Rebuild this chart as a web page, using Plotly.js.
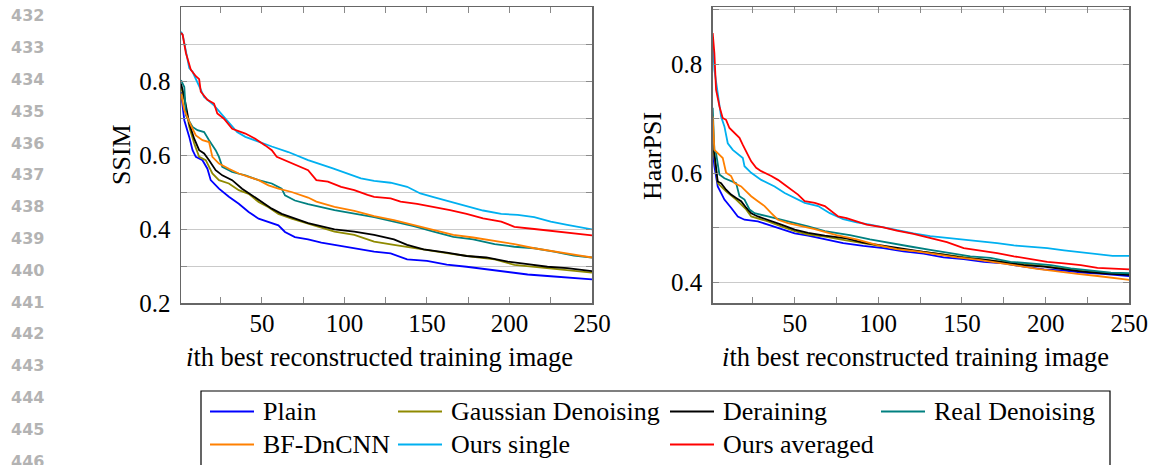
<!DOCTYPE html>
<html>
<head>
<meta charset="utf-8">
<script src="https://cdn.plot.ly/plotly-3.0.1.min.js"></script>
<style>html,body{margin:0;padding:0;background:#fff;}#chart{width:1152px;height:465px;}</style>
</head>
<body>
<div id="chart"></div>
<script>
// ---------- data ----------
const seriesNames = ["Plain", "Gaussian Denoising", "Deraining", "Real Denoising", "BF-DnCNN", "Ours single", "Ours averaged"];
const seriesColors = ["#0000ff", "#8f8a00", "#000000", "#008080", "#ff8000", "#00b0f0", "#ff0000"];

const xTickVals = [50, 100, 150, 200, 250];
const ssimTickVals = [0.2, 0.4, 0.6, 0.8];
const haarTickVals = [0.4, 0.6, 0.8];
const lineNumbers = ["432","433","434","435","436","437","438","439","440","441","442","443","444","445","446"];

// SSIM (left panel)
const ssimPlainX = [1, 2, 3, 6, 8, 10, 14, 17, 19, 24, 30, 36, 42, 48, 54, 60, 64, 70, 78, 86, 94, 106, 118, 128, 138, 150, 162, 174, 186, 199, 211, 223, 235, 250];
const ssimPlainY = [0.77, 0.73, 0.694, 0.649, 0.613, 0.595, 0.586, 0.563, 0.532, 0.509, 0.487, 0.468, 0.446, 0.428, 0.419, 0.410, 0.392, 0.378, 0.372, 0.363, 0.357, 0.348, 0.339, 0.334, 0.318, 0.314, 0.304, 0.298, 0.291, 0.285, 0.277, 0.273, 0.269, 0.264];
const ssimGaussX = [1, 3, 6, 9, 12, 16, 20, 24, 30, 36, 42, 48, 54, 60, 68, 78, 94, 106, 118, 130, 142, 154, 166, 178, 191, 203, 215, 227, 239, 250];
const ssimGaussY = [0.784, 0.750, 0.676, 0.631, 0.595, 0.586, 0.550, 0.532, 0.523, 0.505, 0.495, 0.473, 0.459, 0.441, 0.428, 0.414, 0.393, 0.384, 0.366, 0.357, 0.348, 0.339, 0.332, 0.325, 0.318, 0.303, 0.298, 0.291, 0.286, 0.282];
const ssimDerainX = [1, 3, 6, 9, 12, 15, 18, 22, 26, 32, 38, 44, 50, 56, 62, 68, 78, 94, 106, 118, 130, 138, 148, 162, 174, 186, 199, 211, 223, 235, 250];
const ssimDerainY = [0.793, 0.757, 0.685, 0.644, 0.613, 0.604, 0.586, 0.559, 0.545, 0.532, 0.509, 0.491, 0.473, 0.455, 0.441, 0.432, 0.416, 0.399, 0.393, 0.384, 0.372, 0.357, 0.345, 0.336, 0.327, 0.323, 0.312, 0.305, 0.298, 0.294, 0.286];
const ssimRealX = [1, 3, 4, 8, 11, 15, 18, 22, 24, 26, 32, 40, 48, 56, 62, 64, 70, 78, 94, 106, 118, 130, 142, 154, 166, 178, 191, 203, 215, 227, 239, 250];
const ssimRealY = [0.802, 0.784, 0.707, 0.676, 0.667, 0.662, 0.640, 0.613, 0.595, 0.568, 0.554, 0.545, 0.532, 0.523, 0.509, 0.491, 0.477, 0.467, 0.451, 0.442, 0.432, 0.420, 0.408, 0.393, 0.379, 0.372, 0.359, 0.352, 0.348, 0.339, 0.328, 0.323];
const ssimBfX = [1, 3, 7, 10, 14, 18, 20, 24, 30, 36, 42, 48, 54, 60, 68, 78, 83, 94, 106, 118, 130, 142, 154, 166, 178, 191, 203, 215, 227, 239, 250];
const ssimBfY = [0.766, 0.721, 0.680, 0.653, 0.640, 0.635, 0.595, 0.577, 0.563, 0.550, 0.541, 0.532, 0.518, 0.509, 0.500, 0.485, 0.474, 0.460, 0.449, 0.435, 0.424, 0.411, 0.397, 0.384, 0.377, 0.368, 0.359, 0.348, 0.339, 0.332, 0.323];
const ssimSingleX = [1, 2, 4, 6, 8, 15, 21, 28, 35, 40, 48, 56, 66, 78, 93, 102, 110, 118, 128, 138, 146, 154, 164, 174, 184, 195, 205, 215, 225, 235, 250];
const ssimSingleY = [0.933, 0.925, 0.880, 0.835, 0.825, 0.757, 0.734, 0.698, 0.662, 0.649, 0.635, 0.623, 0.608, 0.586, 0.564, 0.550, 0.537, 0.530, 0.525, 0.514, 0.496, 0.486, 0.474, 0.460, 0.450, 0.441, 0.438, 0.432, 0.420, 0.411, 0.399];
const ssimAvgX = [1, 2, 4, 7, 10, 12, 13, 17, 21, 23, 27, 32, 40, 46, 52, 56, 59, 64, 69, 78, 83, 90, 98, 106, 114, 118, 128, 134, 144, 154, 164, 174, 184, 195, 203, 215, 225, 235, 250];
const ssimAvgY = [0.930, 0.925, 0.875, 0.830, 0.813, 0.805, 0.771, 0.749, 0.739, 0.712, 0.698, 0.671, 0.658, 0.644, 0.626, 0.613, 0.595, 0.586, 0.577, 0.559, 0.532, 0.528, 0.514, 0.505, 0.492, 0.487, 0.483, 0.474, 0.468, 0.460, 0.451, 0.441, 0.429, 0.420, 0.406, 0.400, 0.395, 0.390, 0.383];

// HaarPSI (right panel)
const haarPlainX = [1, 2, 4, 6, 8, 12, 14, 16, 20, 28, 34, 42, 50, 58, 68, 79, 91, 103, 115, 127, 139, 151, 163, 175, 187, 199, 211, 222, 234, 250];
const haarPlainY = [0.643, 0.613, 0.576, 0.564, 0.552, 0.537, 0.530, 0.521, 0.515, 0.512, 0.506, 0.498, 0.490, 0.486, 0.480, 0.472, 0.467, 0.463, 0.457, 0.453, 0.446, 0.443, 0.438, 0.435, 0.429, 0.424, 0.422, 0.418, 0.416, 0.412];
const haarGaussX = [1, 2, 4, 9, 15, 21, 24, 34, 42, 50, 58, 68, 79, 91, 103, 115, 127, 139, 151, 163, 175, 187, 199, 211, 222, 234, 250];
const haarGaussY = [0.649, 0.630, 0.582, 0.567, 0.552, 0.534, 0.521, 0.512, 0.503, 0.494, 0.488, 0.484, 0.478, 0.472, 0.465, 0.460, 0.456, 0.451, 0.446, 0.442, 0.438, 0.434, 0.430, 0.426, 0.422, 0.418, 0.415];
const haarDerainX = [1, 2, 4, 6, 9, 12, 15, 18, 21, 24, 28, 34, 42, 50, 58, 68, 81, 91, 103, 115, 127, 139, 151, 163, 175, 187, 199, 211, 222, 234, 250];
const haarDerainY = [0.655, 0.637, 0.585, 0.582, 0.570, 0.561, 0.555, 0.549, 0.537, 0.527, 0.521, 0.515, 0.506, 0.497, 0.491, 0.486, 0.481, 0.473, 0.467, 0.461, 0.456, 0.451, 0.445, 0.442, 0.437, 0.432, 0.429, 0.424, 0.420, 0.417, 0.414];
const haarRealX = [1, 2, 3, 5, 8, 12, 15, 17, 20, 23, 26, 34, 42, 50, 58, 68, 76, 83, 95, 107, 119, 131, 143, 155, 167, 179, 191, 203, 215, 227, 239, 250];
const haarRealY = [0.720, 0.643, 0.637, 0.598, 0.591, 0.585, 0.582, 0.558, 0.552, 0.534, 0.527, 0.521, 0.515, 0.509, 0.503, 0.494, 0.491, 0.487, 0.479, 0.472, 0.466, 0.460, 0.454, 0.448, 0.445, 0.438, 0.435, 0.432, 0.426, 0.422, 0.418, 0.417];
const haarBfX = [1, 2, 4, 7, 9, 12, 14, 18, 21, 24, 28, 32, 36, 40, 46, 54, 62, 75, 87, 99, 111, 123, 135, 147, 159, 171, 183, 195, 207, 219, 231, 243, 250];
const haarBfY = [0.704, 0.643, 0.637, 0.628, 0.601, 0.595, 0.582, 0.576, 0.567, 0.558, 0.549, 0.540, 0.527, 0.515, 0.509, 0.504, 0.498, 0.487, 0.479, 0.469, 0.461, 0.457, 0.451, 0.446, 0.442, 0.437, 0.431, 0.425, 0.420, 0.416, 0.412, 0.408, 0.405];
const haarSingleX = [1, 2, 4, 6, 8, 10, 13, 17, 19, 20, 24, 30, 38, 44, 50, 56, 64, 71, 79, 87, 95, 103, 111, 121, 131, 141, 151, 161, 171, 181, 191, 201, 211, 221, 231, 240, 250];
const haarSingleY = [0.845, 0.790, 0.747, 0.704, 0.686, 0.655, 0.643, 0.634, 0.628, 0.613, 0.601, 0.588, 0.576, 0.564, 0.555, 0.546, 0.540, 0.527, 0.516, 0.510, 0.506, 0.501, 0.496, 0.490, 0.485, 0.482, 0.478, 0.475, 0.472, 0.468, 0.466, 0.463, 0.459, 0.456, 0.453, 0.449, 0.449];
const haarAvgX = [1, 2, 3, 5, 7, 9, 11, 14, 17, 19, 21, 24, 27, 30, 36, 40, 44, 48, 52, 56, 62, 68, 72, 76, 81, 87, 93, 103, 111, 121, 131, 141, 151, 161, 171, 181, 191, 201, 211, 221, 231, 250];
const haarAvgY = [0.857, 0.820, 0.753, 0.723, 0.701, 0.698, 0.683, 0.674, 0.665, 0.652, 0.640, 0.622, 0.610, 0.604, 0.595, 0.588, 0.579, 0.570, 0.561, 0.549, 0.546, 0.540, 0.530, 0.521, 0.518, 0.512, 0.506, 0.501, 0.495, 0.489, 0.482, 0.474, 0.463, 0.459, 0.454, 0.448, 0.443, 0.438, 0.435, 0.432, 0.427, 0.424];

// ---------- build ----------
const W = 1152, H = 465;
const fx = p => p / W;
const fy = p => 1 - p / H;

const ssimSeries = [[ssimPlainX, ssimPlainY], [ssimGaussX, ssimGaussY], [ssimDerainX, ssimDerainY], [ssimRealX, ssimRealY], [ssimBfX, ssimBfY], [ssimSingleX, ssimSingleY], [ssimAvgX, ssimAvgY]];
const haarSeries = [[haarPlainX, haarPlainY], [haarGaussX, haarGaussY], [haarDerainX, haarDerainY], [haarRealX, haarRealY], [haarBfX, haarBfY], [haarSingleX, haarSingleY], [haarAvgX, haarAvgY]];

const traces = [];
ssimSeries.forEach((s, i) => traces.push({x: s[0], y: s[1], xaxis: 'x', yaxis: 'y', type: 'scatter', mode: 'lines', name: seriesNames[i], line: {color: seriesColors[i], width: 1.8}, showlegend: false, hoverinfo: 'skip'}));
haarSeries.forEach((s, i) => traces.push({x: s[0], y: s[1], xaxis: 'x2', yaxis: 'y2', type: 'scatter', mode: 'lines', name: seriesNames[i], line: {color: seriesColors[i], width: 1.8}, showlegend: false, hoverinfo: 'skip'}));

const serif = 'Liberation Serif';
const tickFont = {family: serif, size: 25, color: '#000'};
const gridCol = '#cacaca';
const tickCol = '#8a8a8a';
const frameCol = '#666666';

function xAxis(dom, anchor) {
  return {domain: dom, anchor: anchor, range: [1, 250], tickvals: xTickVals, ticktext: xTickVals.map(String),
    ticks: 'inside', ticklen: 6, tickwidth: 1, tickcolor: tickCol, showline: true, linecolor: frameCol, linewidth: 1.5,
    mirror: 'ticks', showgrid: false, zeroline: false, tickfont: tickFont, ticklabelstandoff: -3,
    minor: {tick0: 0, dtick: 25, ticks: 'inside', ticklen: 6, tickwidth: 1, tickcolor: tickCol, showgrid: false}, fixedrange: true};
}
function yAxis(dom, anchor, range, tv) {
  return {domain: dom, anchor: anchor, range: range, tickvals: tv, ticktext: tv.map(v => v.toFixed(1)),
    ticks: 'inside', ticklen: 6, tickwidth: 1, tickcolor: tickCol, showline: true, linecolor: frameCol, linewidth: 1.5,
    mirror: 'ticks', showgrid: true, gridcolor: gridCol, gridwidth: 1, zeroline: false, tickfont: tickFont, ticklabelstandoff: 4,
    minor: {tick0: 0, dtick: 0.1, ticks: 'inside', ticklen: 6, tickwidth: 1, tickcolor: tickCol, showgrid: true, gridcolor: gridCol, gridwidth: 1}, fixedrange: true};
}

const annotations = [];
const shapes = [];
// axis titles
const xTitle = '<i>i</i>th best reconstructed training image';
annotations.push({text: xTitle, xref: 'paper', yref: 'paper', x: fx(379), y: fy(357), xanchor: 'center', yanchor: 'middle', showarrow: false, font: {family: serif, size: 26.5, color: '#000'}});
annotations.push({text: xTitle, xref: 'paper', yref: 'paper', x: fx(915), y: fy(357), xanchor: 'center', yanchor: 'middle', showarrow: false, font: {family: serif, size: 26.5, color: '#000'}});
annotations.push({text: 'SSIM', xref: 'paper', yref: 'paper', x: fx(122), y: fy(155), xanchor: 'center', yanchor: 'middle', textangle: -90, showarrow: false, font: {family: serif, size: 26, color: '#000'}});
annotations.push({text: 'HaarPSI', xref: 'paper', yref: 'paper', x: fx(653), y: fy(156), xanchor: 'center', yanchor: 'middle', textangle: -90, showarrow: false, font: {family: serif, size: 26, color: '#000'}});

// legend (manual, columns like the reference)
shapes.push({type: 'rect', xref: 'paper', yref: 'paper', x0: fx(201), x1: fx(1110), y0: fy(475), y1: fy(391), line: {color: '#000', width: 1.2}, fillcolor: 'rgba(0,0,0,0)'});
const legCols = [210, 398, 670, 881];
const legRows = [411.5, 444.5];
seriesNames.forEach((nm, i) => {
  const r = i < 4 ? 0 : 1;
  const c = i < 4 ? i : i - 4;
  const x0 = legCols[c], yy = legRows[r];
  shapes.push({type: 'line', xref: 'paper', yref: 'paper', x0: fx(x0), x1: fx(x0 + 44), y0: fy(yy), y1: fy(yy), line: {color: seriesColors[i], width: 1.8}});
  annotations.push({text: nm, xref: 'paper', yref: 'paper', x: fx(x0 + 51), y: fy(yy), xanchor: 'left', yanchor: 'middle', showarrow: false, font: {family: serif, size: 26, color: '#000'}});
});

// line numbers on the left margin
lineNumbers.forEach((t, k) => {
  annotations.push({text: t, xref: 'paper', yref: 'paper', x: fx(9), y: fy(15.8 + 31.8 * k), xanchor: 'left', yanchor: 'middle', showarrow: false, font: {family: 'DejaVu Sans', size: 16, color: '#b3b3b3', weight: 'bold'}});
});

const layout = {
  width: W, height: H, margin: {l: 0, r: 0, t: 0, b: 0}, paper_bgcolor: '#fff', plot_bgcolor: '#fff', showlegend: false,
  font: {family: serif},
  xaxis: xAxis([fx(181), fx(592)], 'y'),
  yaxis: yAxis([fy(303), fy(7)], 'x', [0.2, 1.0], ssimTickVals),
  xaxis2: xAxis([fx(712.7), fx(1129.3)], 'y2'),
  yaxis2: yAxis([fy(303.3), fy(7.3)], 'x2', [0.362, 0.904], haarTickVals),
  annotations: annotations, shapes: shapes
};

Plotly.newPlot('chart', traces, layout, {displayModeBar: false, staticPlot: true});
</script>
</body>
</html>
